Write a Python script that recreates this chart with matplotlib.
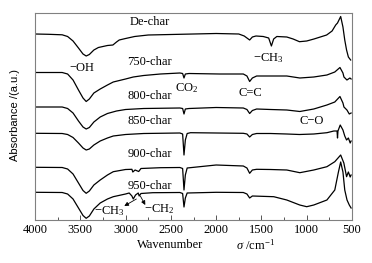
import matplotlib
matplotlib.use("Agg")
import matplotlib.pyplot as plt
from matplotlib.ticker import MultipleLocator

plt.rcParams["mathtext.fontset"] = "custom"
plt.rcParams["mathtext.rm"] = "Liberation Serif"
plt.rcParams["mathtext.it"] = "Liberation Serif:italic"
plt.rcParams["mathtext.sf"] = "Liberation Serif"

# ---------------- data ----------------
de_w = [4000, 3850, 3700, 3640, 3580, 3520, 3470, 3435, 3400, 3350, 3300, 3200, 3140, 3100, 3070,
        3000, 2900, 2750, 2500, 2000, 1750, 1690, 1630, 1600, 1560, 1480, 1420, 1390, 1365, 1330,
        1220, 1150, 1080, 1000, 920, 850, 780, 720, 680, 660, 625, 600, 580, 560, 540, 515]
de_a = [1.86, 1.857, 1.852, 1.835, 1.79, 1.72, 1.66, 1.64, 1.655, 1.70, 1.725, 1.745, 1.75, 1.78, 1.80,
        1.815, 1.835, 1.85, 1.855, 1.865, 1.86, 1.84, 1.80, 1.83, 1.84, 1.835, 1.82, 1.74, 1.81, 1.835,
        1.83, 1.81, 1.783, 1.79, 1.81, 1.83, 1.85, 1.89, 1.95, 1.97, 2.035, 1.93, 1.80, 1.70, 1.63, 1.60]

c750_w = [4000, 3700, 3640, 3580, 3520, 3470, 3435, 3400, 3350, 3280, 3200, 3136, 3000, 2915, 2800,
          2615, 2400, 2370, 2355, 2340, 2300, 1963, 1700, 1660, 1630, 1600, 1553, 1364, 1220, 1076,
          922, 777, 690, 633, 600, 589, 556, 523, 510]
c750_a = [1.475, 1.475, 1.46, 1.40, 1.30, 1.22, 1.185, 1.21, 1.27, 1.31, 1.35, 1.38, 1.41, 1.43, 1.445,
          1.46, 1.47, 1.465, 1.42, 1.46, 1.465, 1.46, 1.46, 1.44, 1.385, 1.42, 1.44, 1.44, 1.44, 1.42,
          1.43, 1.45, 1.48, 1.525, 1.47, 1.43, 1.40, 1.42, 1.41]

c800_w = [4000, 3700, 3640, 3580, 3520, 3470, 3435, 3400, 3350, 3280, 3200, 3100, 3000, 2800, 2400,
          2370, 2355, 2340, 2300, 2000, 1700, 1660, 1630, 1600, 1553, 1400, 1220, 1076, 922, 777,
          690, 633, 600, 589, 556, 530, 510]
c800_a = [1.13, 1.13, 1.115, 1.07, 0.99, 0.93, 0.91, 0.925, 0.98, 1.03, 1.065, 1.09, 1.105, 1.115, 1.12,
          1.115, 1.06, 1.11, 1.115, 1.125, 1.12, 1.105, 1.065, 1.095, 1.11, 1.105, 1.10, 1.085, 1.11, 1.15,
          1.18, 1.235, 1.17, 1.13, 1.10, 1.06, 1.07]

c850_w = [4000, 3700, 3640, 3580, 3520, 3470, 3435, 3400, 3350, 3280, 3200, 3136, 3000, 2800, 2400,
          2370, 2355, 2340, 2320, 2283, 2000, 1700, 1660, 1630, 1600, 1553, 1400, 1220, 1080, 922,
          777, 700, 665, 660, 655, 630, 600, 580, 560, 540, 520, 510]
c850_a = [0.867, 0.865, 0.855, 0.825, 0.77, 0.72, 0.70, 0.71, 0.75, 0.79, 0.82, 0.84, 0.855, 0.865, 0.87,
          0.86, 0.65, 0.80, 0.865, 0.873, 0.87, 0.867, 0.86, 0.83, 0.855, 0.865, 0.865, 0.86, 0.855, 0.86,
          0.873, 0.89, 0.89, 0.82, 0.89, 0.95, 0.90, 0.84, 0.80, 0.82, 0.77, 0.79]

c900_w = [4000, 3700, 3640, 3580, 3520, 3470, 3435, 3400, 3350, 3280, 3200, 3136, 3000, 2930, 2920,
          2895, 2855, 2830, 2615, 2400, 2370, 2355, 2340, 2320, 2000, 1700, 1660, 1630, 1600, 1553,
          1400, 1220, 1076, 922, 777, 690, 625, 590, 560, 540, 520, 510]
c900_a = [0.527, 0.525, 0.51, 0.46, 0.37, 0.295, 0.267, 0.29, 0.35, 0.40, 0.45, 0.483, 0.505, 0.507, 0.48,
          0.50, 0.485, 0.515, 0.523, 0.525, 0.515, 0.30, 0.45, 0.52, 0.55, 0.54, 0.52, 0.467, 0.50, 0.507,
          0.505, 0.50, 0.473, 0.50, 0.533, 0.583, 0.65, 0.57, 0.433, 0.48, 0.43, 0.45]

c950_w = [4000, 3700, 3640, 3580, 3520, 3470, 3435, 3400, 3350, 3280, 3200, 3136, 3000, 2960, 2930,
          2915, 2890, 2860, 2850, 2830, 2700, 2400, 2370, 2355, 2340, 2320, 2000, 1700, 1660, 1630,
          1600, 1364, 1220, 1077, 1000, 922, 777, 690, 650, 625, 600, 580, 555, 530, 510]
c950_a = [0.277, 0.275, 0.26, 0.21, 0.12, 0.045, 0.017, 0.04, 0.11, 0.17, 0.21, 0.233, 0.26, 0.27, 0.24,
          0.21, 0.25, 0.27, 0.24, 0.265, 0.273, 0.275, 0.265, 0.13, 0.22, 0.27, 0.277, 0.275, 0.26, 0.22,
          0.24, 0.233, 0.20, 0.15, 0.133, 0.15, 0.20, 0.30, 0.48, 0.58, 0.48, 0.30, 0.20, 0.15, 0.12]

series = [(de_w, de_a), (c750_w, c750_a), (c800_w, c800_a),
          (c850_w, c850_a), (c900_w, c900_a), (c950_w, c950_a)]

sample_labels = ["De-char", "750-char", "800-char", "850-char", "900-char", "950-char"]
sample_label_a = [1.98, 1.58, 1.24, 0.99, 0.66, 0.34]

xticks = [4000, 3500, 3000, 2500, 2000, 1500, 1000, 500]

# ---------------- figure ----------------
W, H = 372, 263
fig = plt.figure(figsize=(W / 100, H / 100), dpi=100)
ax = fig.add_axes([35 / W, (H - 220) / H, (352 - 35) / W, (220 - 12.7) / H])

serif = ["Liberation Serif", "DejaVu Serif"]
for w, a in series:
    ax.plot(w, a, color="black", lw=0.9)

ax.set_xlim(4000, 500)
ax.set_ylim(0, 2.073)
ax.set_xticks(xticks)
ax.xaxis.set_minor_locator(MultipleLocator(250))
ax.set_yticks([])
ax.tick_params(axis="x", which="both", direction="in", top=False, labelsize=9, pad=3,
               color="#555555")
ax.tick_params(axis="x", which="major", length=3.5, width=0.7)
ax.tick_params(axis="x", which="minor", length=2.5, width=0.7)
for lab in ax.get_xticklabels():
    lab.set_fontfamily(serif)
for sp in ax.spines.values():
    sp.set_color("#808080")
    sp.set_linewidth(0.8)

fs = 9
for lab, ya in zip(sample_labels, sample_label_a):
    ax.text(2737, ya, lab, ha="center", va="center", fontsize=fs, family=serif)

ax.text(3479, 1.52, "\u2212OH", ha="center", va="center", fontsize=fs, family=serif)
ax.text(2328, 1.32, "CO$_2$", ha="center", va="center", fontsize=fs, family=serif)
ax.text(1619, 1.27, "C=C", ha="center", va="center", fontsize=fs, family=serif)
ax.text(1419, 1.62, "\u2212CH$_3$", ha="center", va="center", fontsize=fs, family=serif)
ax.text(943, 0.99, "C\u2212O", ha="center", va="center", fontsize=fs, family=serif)
ax.text(3180, 0.09, "\u2212CH$_3$", ha="center", va="center", fontsize=fs, family=serif)
ax.text(2627, 0.11, "\u2212CH$_2$", ha="center", va="center", fontsize=fs, family=serif)

ax.annotate("", xy=(3014, 0.14), xytext=(2881, 0.21),
            arrowprops=dict(arrowstyle="-|>", color="black", lw=0.6,
                            mutation_scale=6, shrinkA=0, shrinkB=0))
ax.annotate("", xy=(2782, 0.15), xytext=(2837, 0.24),
            arrowprops=dict(arrowstyle="-|>", color="black", lw=0.6,
                            mutation_scale=6, shrinkA=0, shrinkB=0))

fig.text(15 / W, 1 - 115 / H, "Absorbance /(a.u.)", rotation=90, ha="center", va="center",
         fontsize=8, family=["Liberation Sans", "DejaVu Sans"])
fig.text(137 / W, 1 - 245 / H, "Wavenumber", ha="left", va="center", fontsize=fs, family=serif)
fig.text(236 / W, 1 - 245 / H, "$\\it{\\sigma}$ /cm$^{-1}$", ha="left", va="center", fontsize=fs,
         family=serif)

fig.savefig("out.png", dpi=100)
